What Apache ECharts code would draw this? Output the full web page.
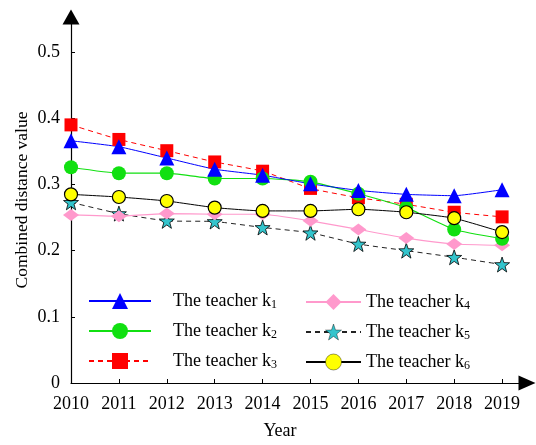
<!DOCTYPE html>
<html>
<head>
<meta charset="utf-8">
<script src="https://cdn.jsdelivr.net/npm/echarts@6/dist/echarts.min.js"></script>
<style>
html,body{margin:0;padding:0;background:#fff;}
#chart{width:536px;height:445px;}
</style>
</head>
<body>
<div id="chart"></div>
<script>
const years = [2010, 2011, 2012, 2013, 2014, 2015, 2016, 2017, 2018, 2019];
const yTicks = [0, 0.1, 0.2, 0.3, 0.4, 0.5];
const seriesNames = ['The teacher k1', 'The teacher k2', 'The teacher k3', 'The teacher k4', 'The teacher k5', 'The teacher k6'];
const k1 = [0.366, 0.357, 0.340, 0.323, 0.314, 0.301, 0.291, 0.285, 0.283, 0.292];
const k2 = [0.326, 0.317, 0.317, 0.309, 0.309, 0.304, 0.286, 0.265, 0.232, 0.218];
const k3 = [0.390, 0.368, 0.351, 0.334, 0.320, 0.294, 0.280, 0.270, 0.258, 0.251];
const k4 = [0.254, 0.252, 0.256, 0.255, 0.255, 0.245, 0.232, 0.219, 0.210, 0.208];
const k5 = [0.273, 0.256, 0.245, 0.244, 0.235, 0.227, 0.210, 0.200, 0.190, 0.179];
const k6 = [0.285, 0.281, 0.275, 0.265, 0.260, 0.260, 0.2625, 0.258, 0.249, 0.228];

const FONT = 'Liberation Serif';
const STAR = 'path://M100,0 L123.5,67.6 L195.1,69.1 L138,112.4 L158.8,180.9 L100,140 L41.2,180.9 L62,112.4 L4.9,69.1 L76.5,67.6 Z';

function pts(vals) { return years.map((y, i) => [y, vals[i]]); }

function mk(name, vals, opt) {
  return Object.assign({
    name: name,
    type: 'line',
    data: pts(vals),
    smooth: 0.15,
    symbolKeepAspect: false
  }, opt);
}

const series = [
  mk(seriesNames[2], k3, {symbol: 'rect', symbolSize: 13, itemStyle: {color: '#ff0000'}, lineStyle: {color: '#ff0000', width: 1, type: [5, 4]}}),
  mk(seriesNames[4], k5, {symbol: STAR, symbolSize: 15, itemStyle: {color: '#33c4cc', borderColor: '#000', borderWidth: 0.8}, lineStyle: {color: '#222', width: 1, type: [5, 4]}}),
  mk(seriesNames[3], k4, {symbol: 'diamond', symbolSize: [16, 12], itemStyle: {color: '#ff99cc'}, lineStyle: {color: '#ff99cc', width: 1.2}}),
  mk(seriesNames[1], k2, {symbol: 'circle', symbolSize: 14, itemStyle: {color: '#11e011'}, lineStyle: {color: '#11e011', width: 1.2}}),
  mk(seriesNames[0], k1, {symbol: 'triangle', symbolSize: 15, itemStyle: {color: '#0000ff'}, lineStyle: {color: '#0000ff', width: 1}}),
  mk(seriesNames[5], k6, {symbol: 'circle', symbolSize: 13, itemStyle: {color: '#ffff00', borderColor: '#000', borderWidth: 1.2}, lineStyle: {color: '#000', width: 1}})
];

function legendFmt(name) { return '{a|The teacher k}{b|' + name.slice(-1) + '}'; }
function legendRich(padLeft) {
  return {
    a: {fontFamily: FONT, fontSize: 18, color: '#000', lineHeight: 20, padding: [0, 0, 0, padLeft]},
    b: {fontFamily: FONT, fontSize: 12, color: '#000', lineHeight: 12, verticalAlign: 'bottom', padding: [12, 0, 0, 0]}
  };
}

const chart = echarts.init(document.getElementById('chart'), null, {renderer: 'canvas'});
chart.setOption({
  backgroundColor: '#fff',
  animation: false,
  grid: {left: 71, right: 9, top: 17, bottom: 60},
  legend: [
    {
      data: seriesNames.slice(0, 3), orient: 'vertical', left: 88, top: 287, padding: 0,
      itemWidth: 62, itemHeight: 20, itemGap: 6, formatter: legendFmt,
      textStyle: {rich: legendRich(17)}
    },
    {
      data: seriesNames.slice(3, 6), orient: 'vertical', left: 305, top: 288, padding: 0,
      itemWidth: 55, itemHeight: 20, itemGap: 6, formatter: legendFmt,
      itemStyle: {borderWidth: 0.4},
      textStyle: {rich: legendRich(0)}
    }
  ],
  xAxis: {
    type: 'value', min: 2010, max: 2019.52,
    name: 'Year', nameLocation: 'middle', nameGap: 39, nameMoveOverlap: false,
    nameTextStyle: {fontFamily: FONT, fontSize: 18, color: '#000', padding: [0, 38, 0, 0]},
    axisLine: {lineStyle: {color: '#000', width: 1.2}, symbol: ['none', 'triangle'], symbolSize: [15, 17]},
    axisTick: {inside: true, length: 4, customValues: years, lineStyle: {color: '#000'}},
    axisLabel: {customValues: years, formatter: v => String(v), fontFamily: FONT, fontSize: 18, color: '#000', margin: 12},
    splitLine: {show: false}
  },
  yAxis: {
    type: 'value', min: 0, max: 0.553,
    name: 'Combined distance value', nameLocation: 'middle', nameGap: 40, nameMoveOverlap: false,
    nameTextStyle: {fontFamily: FONT, fontSize: 17.5, color: '#000'},
    axisLine: {show: true, lineStyle: {color: '#000', width: 1.2}, symbol: ['none', 'triangle'], symbolSize: [17, 15]},
    axisTick: {show: true, inside: true, length: 4, customValues: yTicks, lineStyle: {color: '#000'}},
    axisLabel: {customValues: yTicks, formatter: v => (v === 0 ? '0' : v.toFixed(1)), fontFamily: FONT, fontSize: 18, color: '#000', margin: 11},
    splitLine: {show: false}
  },
  series: series
});
</script>
</body>
</html>
